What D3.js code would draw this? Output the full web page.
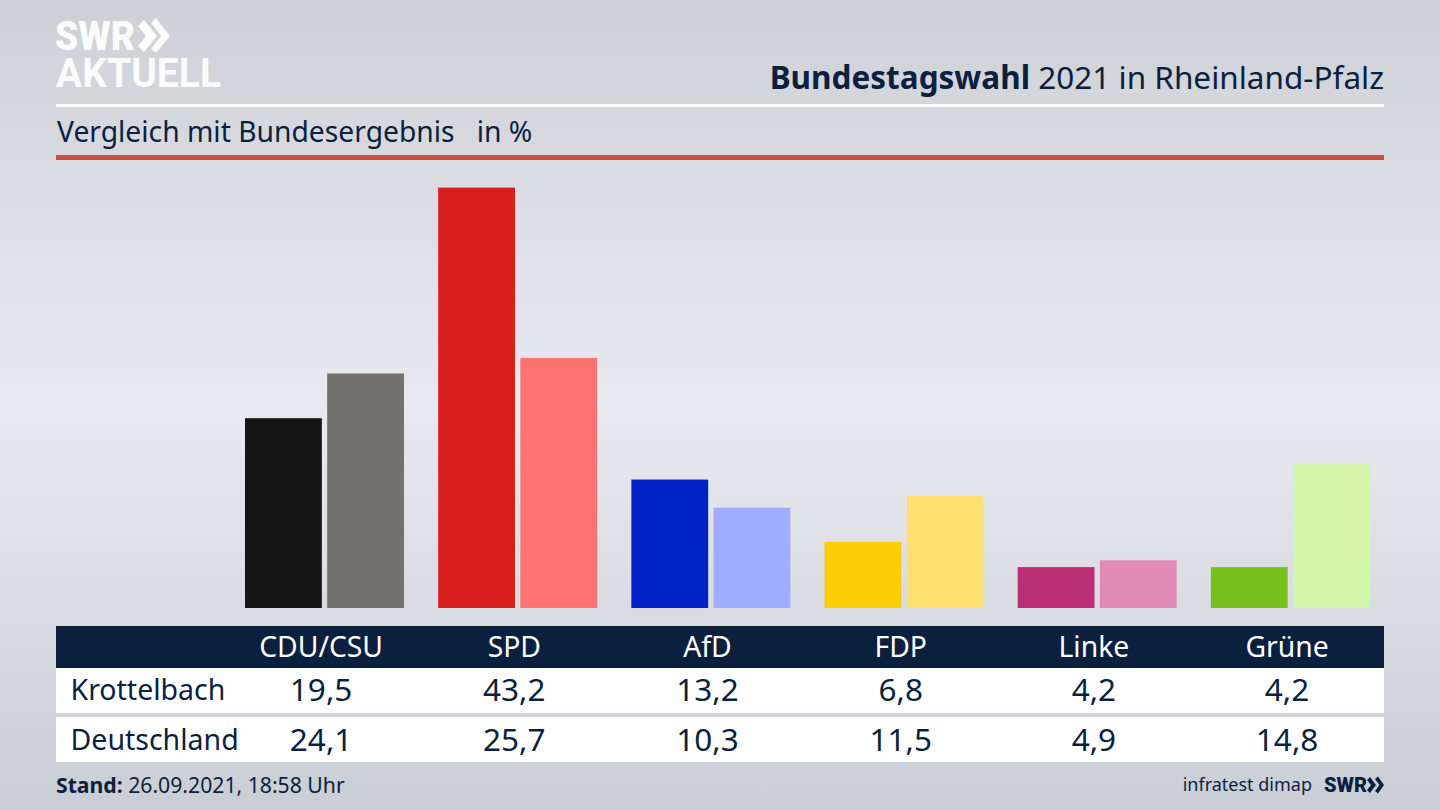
<!DOCTYPE html>
<html lang="de">
  <head>
    <meta charset="UTF-8" />
    <title>Bundestagswahl 2021 in Rheinland-Pfalz</title>
    <script src="https://d3js.org/d3.v7.min.js"></script>
    <style>
      html, body { margin: 0; padding: 0; background: #d5d8dd; }
      svg { display: block; }
      text { font-family: "Noto Sans", sans-serif; fill: #0b1f3f; }
    </style>
  </head>
  <body>
    <div id="chart-container"></div>
    <script>
      // Data
      const parties = ['CDU/CSU', 'SPD', 'AfD', 'FDP', 'Linke', 'Grüne'];
      const regions = ['Krottelbach', 'Deutschland'];
      const krottelbach = [19.5, 43.2, 13.2, 6.8, 4.2, 4.2];
      const deutschland = [24.1, 25.7, 10.3, 11.5, 4.9, 14.8];
      const coloursLocal = ['#141414', '#d71f1d', '#0022c4', '#ffcc08', '#bb2d74', '#78be1c'];
      const coloursFederal = ['#74726f', '#ff7370', '#9eadff', '#ffe071', '#e08ab6', '#d4f6a8'];

      const svgWidth = 1440;
      const svgHeight = 810;
      const navy = '#0b1f3f';

      const svg = d3
        .select('#chart-container')
        .append('svg')
        .attr('width', svgWidth)
        .attr('height', svgHeight);

      // Background
      const grad = svg
        .append('defs')
        .append('linearGradient')
        .attr('id', 'bg')
        .attr('x1', 0)
        .attr('x2', 0)
        .attr('y1', 0)
        .attr('y2', 1);
      grad.append('stop').attr('offset', '0%').attr('stop-color', '#cdd0d6');
      grad.append('stop').attr('offset', '50%').attr('stop-color', '#e9eaef');
      grad.append('stop').attr('offset', '100%').attr('stop-color', '#c9cdd4');
      svg
        .append('rect')
        .attr('width', svgWidth)
        .attr('height', svgHeight)
        .attr('fill', 'url(#bg)');

      // Logo
      const logo = svg.append('g').attr('fill', '#fbfbfb');
      logo
        .append('text')
        .attr('x', 55)
        .attr('y', 50)
        .attr('textLength', 80)
        .attr('lengthAdjust', 'spacingAndGlyphs')
        .style('font-size', '41px')
        .style('font-weight', 900)
        .style('font-family', 'Roboto, sans-serif')
        .style('fill', '#fbfbfb')
        .text('SWR');
      logo
        .append('path')
        .attr('d', 'M138,26 L144,20 L157,36 L144,52 L138,46 L146,36 Z M151,23 L156,18 L170,36 L156,53 L151,49 L161,36 Z');
      logo
        .append('text')
        .attr('x', 56)
        .attr('y', 87)
        .attr('textLength', 165)
        .attr('lengthAdjust', 'spacingAndGlyphs')
        .style('font-size', '41px')
        .style('font-weight', 700)
        .style('font-family', 'Roboto, sans-serif')
        .style('fill', '#fbfbfb')
        .text('AKTUELL');

      // Title block
      const title = svg
        .append('text')
        .attr('x', 1384)
        .attr('y', 89)
        .attr('text-anchor', 'end')
        .style('font-size', '31.5px');
      title.append('tspan').style('font-weight', 700).text('Bundestagswahl');
      title.append('tspan').text(' 2021 in Rheinland-Pfalz');

      svg
        .append('rect')
        .attr('x', 56)
        .attr('y', 104)
        .attr('width', 1328)
        .attr('height', 3)
        .attr('fill', '#ffffff');

      svg
        .append('text')
        .attr('x', 57)
        .attr('y', 142)
        .style('font-size', '28.25px')
        .style('white-space', 'pre')
        .text('Vergleich mit Bundesergebnis   in %');

      svg
        .append('rect')
        .attr('x', 56)
        .attr('y', 155)
        .attr('width', 1328)
        .attr('height', 5)
        .attr('fill', '#c9503c');

      // Scales
      const x0 = d3.scaleBand().domain(parties).range([228, 1387]);
      const x1 = d3
        .scaleBand()
        .domain(regions)
        .range([17, 176])
        .paddingInner(0.065);
      const y = d3.scaleLinear().domain([0, 43.2]).range([608, 187.6]);
      const col = d3.scaleBand().domain(parties).range([224.5, 1383.7]);

      // Bars
      const groups = svg
        .selectAll('.party')
        .data(parties)
        .enter()
        .append('g')
        .attr('class', 'party')
        .attr('transform', (d) => `translate(${x0(d)},0)`);

      groups
        .append('rect')
        .attr('x', x1(regions[0]))
        .attr('width', x1.bandwidth())
        .attr('y', (d, i) => y(krottelbach[i]))
        .attr('height', (d, i) => y(0) - y(krottelbach[i]))
        .attr('fill', (d, i) => coloursLocal[i]);

      groups
        .append('rect')
        .attr('x', x1(regions[1]))
        .attr('width', x1.bandwidth())
        .attr('y', (d, i) => y(deutschland[i]))
        .attr('height', (d, i) => y(0) - y(deutschland[i]))
        .attr('fill', (d, i) => coloursFederal[i]);

      // Table
      svg
        .append('rect')
        .attr('x', 56)
        .attr('y', 626)
        .attr('width', 1328)
        .attr('height', 42)
        .attr('fill', navy);
      svg
        .append('rect')
        .attr('x', 56)
        .attr('y', 668)
        .attr('width', 1328)
        .attr('height', 45)
        .attr('fill', '#ffffff');
      svg
        .append('rect')
        .attr('x', 56)
        .attr('y', 717)
        .attr('width', 1328)
        .attr('height', 45)
        .attr('fill', '#ffffff');

      svg
        .selectAll('.head')
        .data(parties)
        .enter()
        .append('text')
        .attr('class', 'head')
        .attr('x', (d) => col(d) + col.bandwidth() / 2)
        .attr('y', 657)
        .attr('text-anchor', 'middle')
        .style('font-size', '28.3px')
        .style('fill', '#ffffff')
        .text((d) => d);

      const fmt = (v) => v.toFixed(1).replace('.', ',');
      [krottelbach, deutschland].forEach(function (values, r) {
        const rowY = [701, 751][r];
        svg
          .append('text')
          .attr('x', 70.5)
          .attr('y', [700, 750][r])
          .style('font-size', '28.5px')
          .text(regions[r]);
        svg
          .selectAll('.val' + r)
          .data(values)
          .enter()
          .append('text')
          .attr('class', 'val' + r)
          .attr('x', (d, i) => col(parties[i]) + col.bandwidth() / 2)
          .attr('y', rowY)
          .attr('text-anchor', 'middle')
          .style('font-size', '31.5px')
          .text(fmt);
      });

      // Footer
      const stand = svg
        .append('text')
        .attr('x', 56)
        .attr('y', 793)
        .style('font-size', '21.2px');
      stand.append('tspan').style('font-weight', 700).text('Stand:');
      stand.append('tspan').text(' 26.09.2021, 18:58 Uhr');

      svg
        .append('text')
        .attr('x', 1312)
        .attr('y', 791)
        .attr('text-anchor', 'end')
        .style('font-size', '18px')
        .text('infratest dimap');
      svg
        .append('text')
        .attr('x', 1324)
        .attr('y', 792)
        .attr('textLength', 43)
        .attr('lengthAdjust', 'spacingAndGlyphs')
        .style('font-size', '21px')
        .style('font-weight', 900)
        .style('font-family', 'Roboto, sans-serif')
        .text('SWR');
      svg
        .append('path')
        .attr('fill', navy)
        .attr('d', 'M1367,780 L1370,777 L1376,785 L1370,793 L1367,790 L1371,785 Z M1375,779 L1378,776.5 L1384,785 L1378,793.5 L1375,791 L1379.5,785 Z');
    </script>
  </body>
</html>
